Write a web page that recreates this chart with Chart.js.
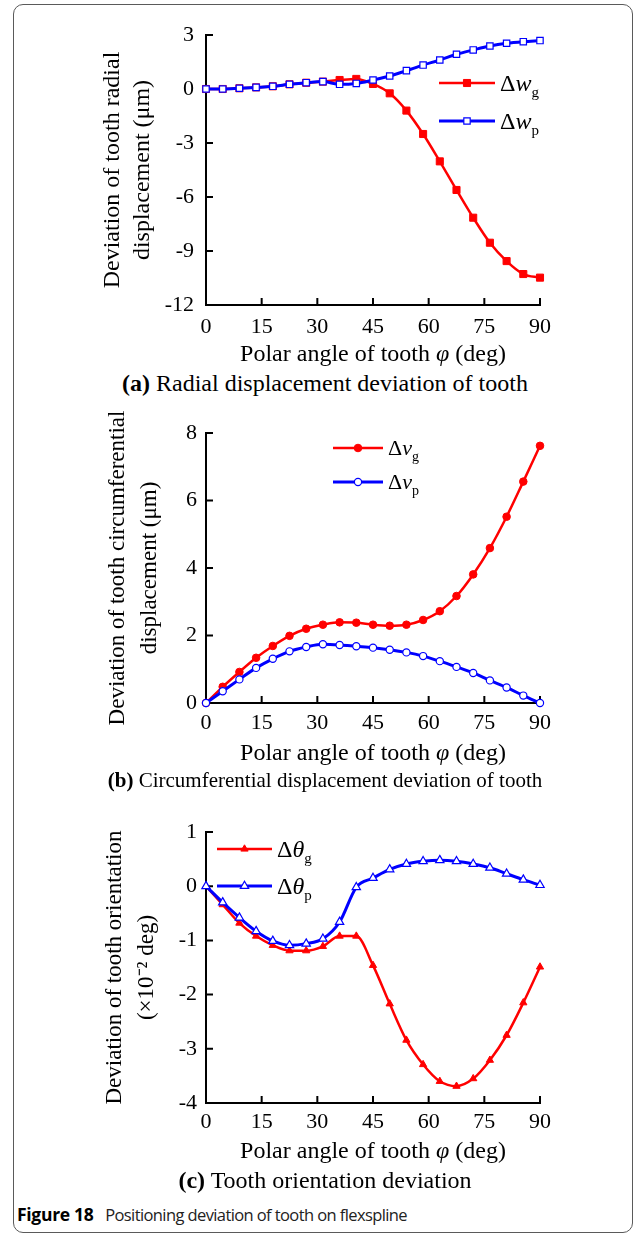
<!DOCTYPE html>
<html>
<head>
<meta charset="utf-8">
<script src="https://cdn.jsdelivr.net/npm/chart.js@4.4.1/dist/chart.umd.min.js"></script>
<style>
  body { margin: 0; background: #fff; width: 637px; height: 1235px; position: relative; overflow: hidden; }
  .frame { position: absolute; left: 13px; top: 4px; width: 620px; height: 1229px; border: 1px solid #5a5a5a; border-radius: 10px; box-sizing: border-box; }
  canvas { position: absolute; left: 0; }
  .cap { position: absolute; left: 0; width: 650px; text-align: center; font-family: "Liberation Serif", serif; color: #000; line-height: 1; white-space: nowrap; }
  .fig { position: absolute; left: 17px; top: 1203px; font-family: "Open Sans", sans-serif; font-size: 16.5px; letter-spacing: -0.6px; line-height: 22px; color: #222; white-space: nowrap; }
  .fig b { color: #000; margin-right: 8px; font-size: 17.5px; letter-spacing: -0.3px; }
</style>
</head>
<body>
<div class="frame"></div>
<canvas id="chartA" width="637" height="370" style="top:0px"></canvas>
<canvas id="chartB" width="637" height="370" style="top:400px"></canvas>
<canvas id="chartC" width="637" height="370" style="top:800px"></canvas>
<div class="cap" style="top:371px;font-size:24px"><b>(a)</b> Radial displacement deviation of tooth</div>
<div class="cap" style="top:770px;font-size:21px"><b>(b)</b> Circumferential displacement deviation of tooth</div>
<div class="cap" style="top:1168px;font-size:24px"><b>(c)</b> Tooth orientation deviation</div>
<div class="fig"><b>Figure 18</b> Positioning deviation of tooth on flexspline</div>
<script>
// ================= DADOS =================
const angles = [0, 4.5, 9, 13.5, 18, 22.5, 27, 31.5, 36, 40.5, 45, 49.5, 54, 58.5, 63, 67.5, 72, 76.5, 81, 85.5, 90];
const xTicks = [0, 15, 30, 45, 60, 75, 90];

// (a) radial displacement (um)
const wg = [0, 0, 0.04, 0.09, 0.15, 0.26, 0.35, 0.41, 0.5, 0.56, 0.28, -0.24, -1.2, -2.5, -4.02, -5.61, -7.15, -8.54, -9.56, -10.28, -10.48];
const wp = [0, 0, 0.04, 0.09, 0.15, 0.26, 0.35, 0.41, 0.26, 0.31, 0.5, 0.72, 1.02, 1.33, 1.61, 1.93, 2.17, 2.39, 2.54, 2.63, 2.69];
const yTicksA = [-12, -9, -6, -3, 0, 3];

// (b) circumferential displacement (um)
const vg = [0, 0.48, 0.92, 1.34, 1.69, 1.99, 2.2, 2.32, 2.39, 2.38, 2.32, 2.29, 2.32, 2.46, 2.72, 3.17, 3.81, 4.59, 5.52, 6.56, 7.62];
const vp = [0, 0.35, 0.7, 1.04, 1.31, 1.53, 1.66, 1.74, 1.72, 1.68, 1.64, 1.58, 1.5, 1.39, 1.24, 1.07, 0.89, 0.67, 0.46, 0.22, 0];
const yTicksB = [0, 2, 4, 6, 8];

// (c) tooth orientation (x10^-2 deg)
const thg = [0, -0.34, -0.68, -0.92, -1.09, -1.19, -1.19, -1.11, -0.92, -0.92, -1.46, -2.17, -2.84, -3.29, -3.6, -3.69, -3.55, -3.21, -2.75, -2.15, -1.49];
const thp = [0, -0.3, -0.58, -0.83, -1.01, -1.09, -1.06, -0.97, -0.66, -0.02, 0.15, 0.31, 0.41, 0.46, 0.48, 0.46, 0.41, 0.34, 0.23, 0.12, 0.02];
const yTicksC = [-4, -3, -2, -1, 0, 1];

const RED = '#ff0000';
const BLUE = '#0000ff';
const SERIF = '"Liberation Serif", "Times New Roman", serif';

// ================= TEXTO COM ITALICO / SUBSCRITO =================
function drawRich(ctx, parts, x, y, size, align) {
    const fontOf = p => `${p.it ? 'italic ' : ''}${p.sub ? Math.round(size * 0.64) : size}px ${SERIF}`;
    let w = 0;
    parts.forEach(p => { ctx.font = fontOf(p); w += ctx.measureText(p.t).width; });
    let cx = align === 'center' ? x - w / 2 : x;
    ctx.textBaseline = 'alphabetic';
    ctx.textAlign = 'left';
    ctx.fillStyle = '#000';
    parts.forEach(p => {
        ctx.font = fontOf(p);
        ctx.fillText(p.t, cx, y + (p.sub ? size * 0.25 : 0));
        cx += ctx.measureText(p.t).width;
    });
}

// ticks para dentro
const inwardTicks = {
    id: 'inwardTicks',
    beforeDatasetsDraw(chart) {
        const { ctx, chartArea: a, scales: { x, y } } = chart;
        ctx.save();
        ctx.strokeStyle = '#000';
        ctx.lineWidth = 2;
        ctx.beginPath();
        x.ticks.forEach(t => {
            const px = x.getPixelForValue(t.value);
            ctx.moveTo(px, a.bottom);
            ctx.lineTo(px, a.bottom - 7);
        });
        y.ticks.forEach(t => {
            const py = y.getPixelForValue(t.value);
            ctx.moveTo(a.left, py);
            ctx.lineTo(a.left + 7, py);
        });
        ctx.stroke();
        ctx.restore();
    }
};

// legenda e titulo do eixo x
function textPlugin(o) {
    return {
        id: 'richText',
        afterDraw(chart) {
            const { ctx, chartArea: a } = chart;
            ctx.save();
            o.legend.forEach((item, i) => {
                const ly = a.top + o.legY[i];
                const lx = a.left + o.legX;
                ctx.strokeStyle = item.color;
                ctx.lineWidth = item.lw;
                ctx.beginPath();
                ctx.moveTo(lx, ly);
                ctx.lineTo(lx + o.legLen, ly);
                ctx.stroke();
                ctx.fillStyle = item.fill;
                ctx.strokeStyle = item.color;
                ctx.lineWidth = item.bw;
                Chart.helpers.drawPoint(ctx, { pointStyle: o.style, radius: item.r, rotation: 0, borderWidth: item.bw }, lx + o.legLen / 2, ly);
                drawRich(ctx, item.parts, lx + o.legLen + 5, ly + o.legSize * 0.33, o.legSize, 'left');
            });
            drawRich(ctx, [{ t: 'Polar angle of tooth ' }, { t: 'φ', it: true }, { t: ' (deg)' }],
                (a.left + a.right) / 2, a.bottom + o.xTitleY + o.xTitleSize * 0.33, o.xTitleSize, 'center');
            ctx.restore();
        }
    };
}

function buildChart(id, o) {
    const series = (vals) => angles.map((a, i) => ({ x: a, y: vals[i] }));
    return new Chart(document.getElementById(id), {
        type: 'line',
        data: {
            datasets: [{
                data: series(o.g),
                borderColor: RED,
                borderWidth: 2.5,
                pointStyle: o.style,
                pointRadius: o.rg,
                pointBackgroundColor: RED,
                pointBorderColor: RED,
                pointBorderWidth: 1,
                cubicInterpolationMode: 'monotone',
                clip: false,
                order: 2
            }, {
                data: series(o.p),
                borderColor: BLUE,
                borderWidth: 3,
                pointStyle: o.style,
                pointRadius: o.rp,
                pointBackgroundColor: '#ffffff',
                pointBorderColor: BLUE,
                pointBorderWidth: 1.2,
                cubicInterpolationMode: 'monotone',
                clip: false,
                order: 1
            }]
        },
        options: {
            responsive: false,
            animation: false,
            layout: { padding: { left: 0, right: 97, top: o.top, bottom: 0 } },
            scales: {
                x: {
                    type: 'linear', min: 0, max: 90,
                    afterBuildTicks: s => { s.ticks = xTicks.map(v => ({ value: v })); },
                    afterFit: s => { s.height = 370 - o.bottom; },
                    grid: { display: false, drawTicks: false },
                    border: { display: true, color: '#000', width: 2 },
                    ticks: { color: '#000', font: { family: SERIF, size: 22, lineHeight: 1 }, padding: o.xpad, maxRotation: 0 }
                },
                y: {
                    type: 'linear', min: o.yt[0], max: o.yt[o.yt.length - 1],
                    afterBuildTicks: s => { s.ticks = o.yt.map(v => ({ value: v })); },
                    afterFit: s => { s.width = 206; },
                    grid: { display: false, drawTicks: false },
                    border: { display: true, color: '#000', width: 2 },
                    ticks: { color: '#000', font: { family: SERIF, size: 22 }, padding: o.ypad },
                    title: {
                        display: true, text: o.ytitle, color: '#000',
                        font: { family: SERIF, size: o.ytSize, lineHeight: o.ytLine / o.ytSize },
                        padding: { top: o.ytX - o.ytLine / 2, bottom: 0 }
                    }
                }
            },
            plugins: { legend: { display: false }, tooltip: { enabled: false } }
        },
        plugins: [inwardTicks, textPlugin(o)]
    });
}

// ================= (a) =================
buildChart('chartA', {
    g: wg, p: wp, yt: yTicksA, style: 'rect', rg: 5, rp: 4.5,
    top: 35, bottom: 305, xpad: 11, ypad: 12,
    ytitle: ['Deviation of tooth radial', 'displacement (μm)'], ytSize: 24, ytLine: 30, ytX: 113,
    xTitleY: 48, xTitleSize: 24,
    legX: 233, legY: [48, 86], legLen: 56, legSize: 24,
    legend: [
        { color: RED, fill: RED, lw: 2.5, bw: 1, r: 5, parts: [{ t: 'Δ' }, { t: 'w', it: true }, { t: 'g', sub: true }] },
        { color: BLUE, fill: '#ffffff', lw: 3, bw: 1.2, r: 4.5, parts: [{ t: 'Δ' }, { t: 'w', it: true }, { t: 'p', sub: true }] }
    ]
});

// ================= (b) =================
buildChart('chartB', {
    g: vg, p: vp, yt: yTicksB, style: 'circle', rg: 3.8, rp: 3.6,
    top: 33, bottom: 303, xpad: 9, ypad: 9,
    ytitle: ['Deviation of tooth circumferential', 'displacement (μm)'], ytSize: 23, ytLine: 32, ytX: 118,
    xTitleY: 49, xTitleSize: 24,
    legX: 127, legY: [15, 49], legLen: 50, legSize: 22,
    legend: [
        { color: RED, fill: RED, lw: 2.5, bw: 1, r: 3.8, parts: [{ t: 'Δ' }, { t: 'v', it: true }, { t: 'g', sub: true }] },
        { color: BLUE, fill: '#ffffff', lw: 3, bw: 1.2, r: 3.6, parts: [{ t: 'Δ' }, { t: 'v', it: true }, { t: 'p', sub: true }] }
    ]
});

// ================= (c) =================
buildChart('chartC', {
    g: thg, p: thp, yt: yTicksC, style: 'triangle', rg: 4.2, rp: 4.8,
    top: 32, bottom: 303, xpad: 8, ypad: 9,
    ytitle: ['Deviation of tooth orientation', '(×10⁻² deg)'], ytSize: 23, ytLine: 32, ytX: 115,
    xTitleY: 47, xTitleSize: 24,
    legX: 11, legY: [17, 54], legLen: 55, legSize: 24,
    legend: [
        { color: RED, fill: RED, lw: 2.5, bw: 1, r: 4.2, parts: [{ t: 'Δ' }, { t: 'θ', it: true }, { t: 'g', sub: true }] },
        { color: BLUE, fill: '#ffffff', lw: 3, bw: 1.2, r: 4.8, parts: [{ t: 'Δ' }, { t: 'θ', it: true }, { t: 'p', sub: true }] }
    ]
});
</script>
</body>
</html>
